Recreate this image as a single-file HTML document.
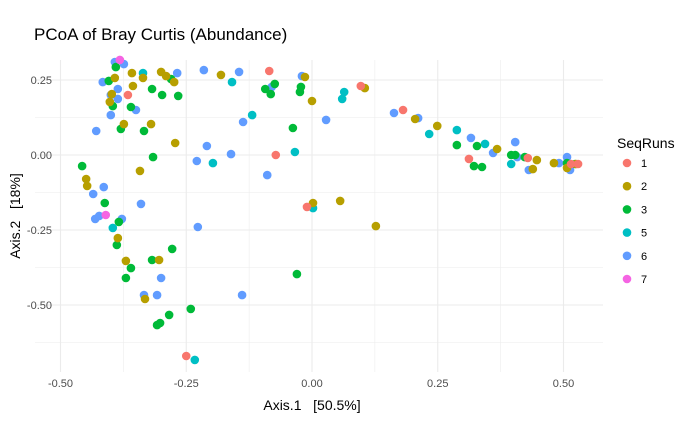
<!DOCTYPE html>
<html><head><meta charset="utf-8"><style>
body{margin:0;background:#fff;}
svg{display:block;font-family:"Liberation Sans",sans-serif;}
</style></head><body>
<svg id="chart" width="700" height="432">
<text x="34" y="40" font-size="17" fill="#000">PCoA of Bray Curtis (Abundance)</text>
<g id="grid"></g>
<g id="ticks"></g>
<g id="points"></g>
<text x="312" y="410" font-size="14" text-anchor="middle" fill="#000" xml:space="preserve">Axis.1   [50.5%]</text>
<text transform="translate(20,216) rotate(-90)" font-size="14" text-anchor="middle" fill="#000" xml:space="preserve">Axis.2   [18%]</text>
<g id="legend">
<text x="617" y="148" font-size="14" fill="#000">SeqRuns</text>
</g>
</svg>
<script>
const xs = [-.392,-.374,-.416,-.268,-.215,-.145,-.080,-.386,-.400,-.386,-.350,-.400,-.137,-.089,-.429,-.209,-.161,-.229,-.414,-.435,-.340,-.431,-.423,-.378,-.227,-.300,-.334,-.308,-.139,-.020,.028,.163,.211,.316,.360,.404,.408,.431,.491,.507,.513,
-.336,-.159,-.119,-.034,-.197,-.396,-.233,.064,.060,.002,.233,.288,.344,.396,
-.390,-.404,-.280,-.318,-.298,-.266,-.396,-.360,-.093,-.074,-.082,-.022,-.024,-.038,-.380,-.334,-.316,-.457,-.412,-.384,-.388,-.278,-.318,-.360,-.370,-.030,-.241,-.284,-.302,-.308,.288,.328,.322,.338,.396,.404,.423,.507,.523,
-.392,-.358,-.336,-.300,-.290,-.274,-.181,-.356,-.398,-.402,-.374,-.320,-.272,-.342,-.449,-.447,-.386,-.370,-.304,-.332,-.014,0,.105,.205,.249,.368,.447,.439,.481,.507,.525,.002,.056,.127,
-.085,-.366,-.072,-.250,.097,.181,.312,.429,.515,.529,-.010,
-.382,-.410];
const ys = [.310,.303,.243,.273,.283,.277,.227,.220,.200,.187,.150,.133,.110,-.067,.080,.030,.003,-.020,-.107,-.130,-.163,-.213,-.203,-.213,-.240,-.410,-.467,-.467,-.467,.263,.117,.140,.123,.057,.007,.043,-.007,-.050,-.027,-.007,-.050,
.273,.243,.133,.010,-.027,-.243,-.683,.210,.187,-.177,.070,.083,.037,-.030,
.293,.247,.253,.220,.200,.197,.163,.160,.220,.237,.203,.227,.210,.090,.087,.080,-.007,-.037,-.160,-.223,-.300,-.313,-.350,-.377,-.410,-.397,-.513,-.533,-.560,-.567,.033,.030,-.037,-.040,0,0,-.007,-.027,-.030,
.257,.273,.257,.277,.263,.243,.267,.230,.203,.177,.103,.103,.040,-.053,-.080,-.103,-.277,-.353,-.350,-.480,.260,.180,.223,.120,.097,.020,-.017,-.047,-.027,-.043,-.030,-.160,-.153,-.237,
.280,.200,0,-.670,.230,.150,-.013,-.010,-.030,-.030,-.173,
.317,-.200];
const groups = [].concat(Array(41).fill("6"),Array(14).fill("5"),Array(39).fill("3"),Array(34).fill("2"),Array(11).fill("1"),Array(2).fill("7"));
const legendLabels = ["1","2","3","5","6","7"];
const xTicks = [-0.5,-0.25,0,0.25,0.5];
const xTickLabels = ["-0.50","-0.25","0.00","0.25","0.50"];
const yTicks = [0.25,0,-0.25,-0.5];
const yTickLabels = ["0.25","0.00","-0.25","-0.50"];

const colors = {"1":"#F8766D","2":"#B79F00","3":"#00BA38","5":"#00BFC4","6":"#619CFF","7":"#F564E3"};
const NS="http://www.w3.org/2000/svg";
const X0=35, X1=603, Y0=60, Y1=372;
function sx(v){return 312+v*503;}
function sy(v){return 155-v*300;}
function mk(t,a,p){const e=document.createElementNS(NS,t);for(const k in a)e.setAttribute(k,a[k]);p.appendChild(e);return e;}
const grid=document.getElementById('grid');
for(let i=-0.625;i<=0.6;i+=0.125){const x=sx(i);if(x<X0||x>X1)continue;const major=Math.abs(i*4-Math.round(i*4))<1e-6;
 const l=mk('line',{x1:x,x2:x,y1:Y0,y2:Y1,stroke:'#ebebeb','stroke-width':major?1.1:0.55},grid);
 
 }
for(let i=-0.75;i<=0.4;i+=0.125){const y=sy(i);if(y<Y0||y>Y1)continue;const major=Math.abs(i*4-Math.round(i*4))<1e-6;
 const l=mk('line',{x1:X0,x2:X1,y1:y,y2:y,stroke:'#ebebeb','stroke-width':major?1.1:0.55},grid);
 
 }
const tk=document.getElementById('ticks');
xTicks.forEach((v,i)=>{const t=mk('text',{x:sx(v),y:387,'font-size':11,'text-anchor':'middle',fill:'#4d4d4d'},tk);t.textContent=xTickLabels[i];
 
 });
yTicks.forEach((v,i)=>{const t=mk('text',{x:52,y:sy(v)+4,'font-size':11,'text-anchor':'end',fill:'#4d4d4d'},tk);t.textContent=yTickLabels[i];
 
 });
const pts=document.getElementById('points');
xs.forEach((v,i)=>{const c=mk('circle',{cx:sx(v),cy:sy(ys[i]),r:4.3,fill:colors[groups[i]]},pts);
 
 });
const lg=document.getElementById('legend');
legendLabels.forEach((g,i)=>{const y=163+i*23.2;
 const c=mk('circle',{cx:627,cy:y,r:4.3,fill:colors[g]},lg);
 
 
 const t=mk('text',{x:641,y:y+4,'font-size':11,fill:'#000'},lg);t.textContent=g;
 
 });
</script>
</body></html>
